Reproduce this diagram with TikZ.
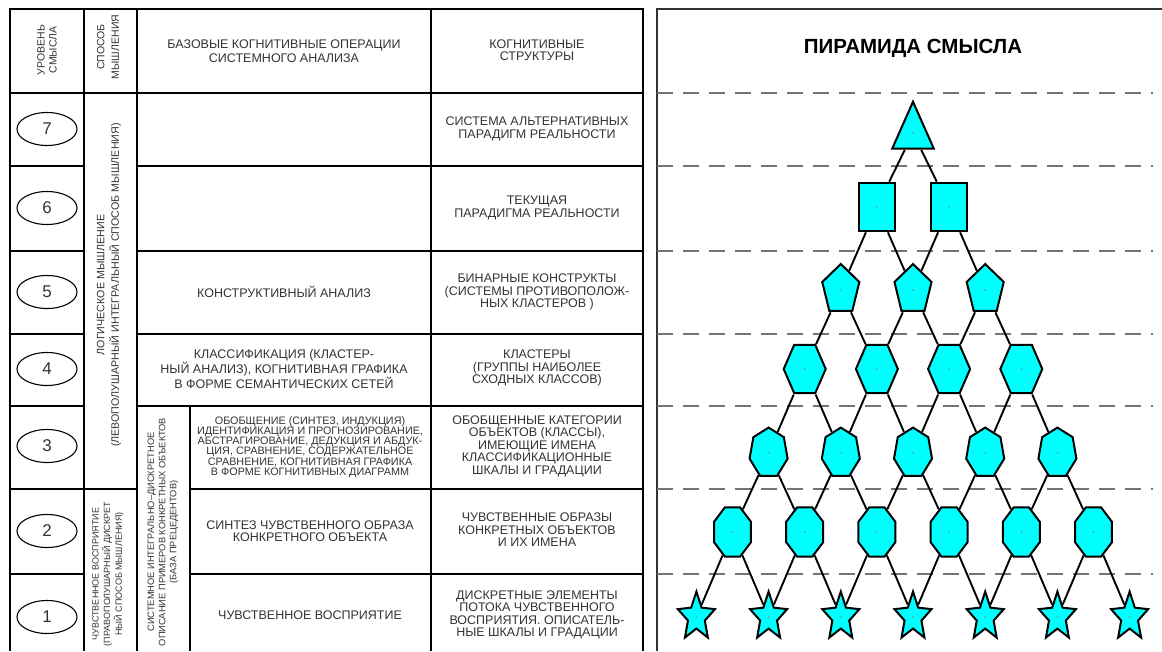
\documentclass[tikz,border=0pt]{standalone}
\usepackage{fontspec}
\setmainfont{Liberation Sans}
\usetikzlibrary{shapes.geometric}
\definecolor{aqua}{RGB}{0,255,255}

\begin{document}
\begin{tikzpicture}[x=1pt,y=-1pt]
        \tikzstyle{txt} = [align=center,text=black!80,inner sep=0pt,font=\fontsize{12.5}{12.5}\selectfont]
        \tikzstyle{dense} = [txt,font=\fontsize{10.8}{10.3}\selectfont]
        \tikzstyle{sidetxt} = [txt,rotate=90,font=\fontsize{9.3}{11.2}\selectfont]
        \tikzstyle{lvl} = [draw,ellipse,line width=1.1pt,minimum width=60,minimum height=33,inner sep=0pt,text=black!80,font=\fontsize{17}{17}\selectfont]
        \tikzstyle{fig} = [draw,fill=aqua,line width=2pt,inner sep=0pt,yscale=1.33]
        \tikzstyle{f3} = [fig,regular polygon,regular polygon sides=3,minimum size=48,yscale=0.98]
        \tikzstyle{f4} = [fig,regular polygon,regular polygon sides=4,minimum size=51]
        \tikzstyle{f5} = [fig,regular polygon,regular polygon sides=5,minimum size=39]
        \tikzstyle{f6} = [fig,regular polygon,regular polygon sides=6,minimum size=42]
        \tikzstyle{f7} = [fig,regular polygon,regular polygon sides=7,minimum size=39,yscale=0.98]
        \tikzstyle{f8} = [fig,regular polygon,regular polygon sides=8,minimum size=40]
        \tikzstyle{fs} = [fig,star,star points=5,star point ratio=2.2,minimum size=39,yscale=0.98]
        \useasboundingbox (0,0) rectangle (1162,651);

        % table
        \draw[line width=1.3pt] (10,651) -- (10,9) -- (643,9) -- (643,651);
        \draw[line width=1.3pt] (84,9) -- (84,651) (137,9) -- (137,651) (431,9) -- (431,651) (190,406) -- (190,651);
        \draw[line width=1.3pt] (10,93) -- (643,93);
        \foreach \y in {166,251,334,406} {
          \draw[line width=1.3pt] (10,\y) -- (84,\y) (137,\y) -- (643,\y);
        }
        \draw[line width=1.3pt] (10,489) -- (137,489) (190,489) -- (643,489);
        \draw[line width=1.3pt] (10,574) -- (84,574) (190,574) -- (643,574);

        \node[sidetxt,font=\fontsize{10.5}{12}\selectfont] (hd1) at (47,50) {УРОВЕНЬ\\СМЫСЛА};
        \node[sidetxt,font=\fontsize{10.5}{14.5}\selectfont] (hd2) at (108,47) {СПОСОБ\\МЫШЛЕНИЯ};
        \node[txt,font=\fontsize{12.5}{14}\selectfont] (hd3) at (284,51) {БАЗОВЫЕ КОГНИТИВНЫЕ ОПЕРАЦИИ\\СИСТЕМНОГО АНАЛИЗА};
        \node[txt] (hd4) at (537,50) {КОГНИТИВНЫЕ\\СТРУКТУРЫ};

        \foreach \n/\y in {7/129, 6/208, 5/292, 4/369, 3/446, 2/531, 1/617} {
          \node[lvl] (lv\n) at (47,\y) {\n};
        }

        \node[sidetxt,font=\fontsize{10.7}{14.5}\selectfont] (md1) at (109,285) {ЛОГИЧЕСКОЕ МЫШЛЕНИЕ\\(ЛЕВОПОЛУШАРНЫЙ ИНТЕГРАЛЬНЫЙ СПОСОБ МЫШЛЕНИЯ)};
        \node[sidetxt,font=\fontsize{9}{11.7}\selectfont] (md2) at (108,574) {ЧУВСТВЕННОЕ ВОСПРИЯТИЕ\\(ПРАВОПОЛУШАРНЫЙ ДИСКРЕТ\\НЫЙ СПОСОБ МЫШЛЕНИЯ)};
        \node[sidetxt] (sb) at (163,532) {СИСТЕМНОЕ ИНТЕГРАЛЬНО–ДИСКРЕТНОЕ\\ОПИСАНИЕ ПРИМЕРОВ КОНКРЕТНЫХ ОБЪЕКТОВ\\(БАЗА ПРЕЦЕДЕНТОВ)};

        \node[txt] (op5) at (284,292) {КОНСТРУКТИВНЫЙ АНАЛИЗ};
        \node[txt] (op4) at (284,369) {КЛАССИФИКАЦИЯ (КЛАСТЕР-\\НЫЙ АНАЛИЗ), КОГНИТИВНАЯ ГРАФИКА\\В ФОРМЕ СЕМАНТИЧЕСКИХ СЕТЕЙ};
        \node[dense] (op3) at (310,447) {ОБОБЩЕНИЕ (СИНТЕЗ, ИНДУКЦИЯ)\\ИДЕНТИФИКАЦИЯ И ПРОГНОЗИРОВАНИЕ,\\АБСТРАГИРОВАНИЕ, ДЕДУКЦИЯ И АБДУК-\\ЦИЯ, СРАВНЕНИЕ, СОДЕРЖАТЕЛЬНОЕ\\СРАВНЕНИЕ, КОГНИТИВНАЯ ГРАФИКА\\В ФОРМЕ КОГНИТИВНЫХ ДИАГРАММ};
        \node[txt] (op2) at (310,531) {СИНТЕЗ ЧУВСТВЕННОГО ОБРАЗА\\КОНКРЕТНОГО ОБЪЕКТА};
        \node[txt] (op1) at (310,615) {ЧУВСТВЕННОЕ ВОСПРИЯТИЕ};

        \foreach \n/\y/\t in {7/129/{СИСТЕМА АЛЬТЕРНАТИВНЫХ\\ПАРАДИГМ РЕАЛЬНОСТИ},
          6/208/{ТЕКУЩАЯ\\ПАРАДИГМА РЕАЛЬНОСТИ},
          5/292/{БИНАРНЫЕ КОНСТРУКТЫ\\(СИСТЕМЫ ПРОТИВОПОЛОЖ-\\НЫХ КЛАСТЕРОВ )},
          4/368/{КЛАСТЕРЫ\\(ГРУППЫ НАИБОЛЕЕ\\СХОДНЫХ КЛАССОВ)},
          3/446/{ОБОБЩЕННЫЕ КАТЕГОРИИ\\ОБЪЕКТОВ (КЛАССЫ),\\ИМЕЮЩИЕ ИМЕНА\\КЛАССИФИКАЦИОННЫЕ\\ШКАЛЫ И ГРАДАЦИИ},
          2/530/{ЧУВСТВЕННЫЕ ОБРАЗЫ\\КОНКРЕТНЫХ ОБЪЕКТОВ\\И ИХ ИМЕНА},
          1/615/{ДИСКРЕТНЫЕ ЭЛЕМЕНТЫ\\ПОТОКА ЧУВСТВЕННОГО\\ВОСПРИЯТИЯ. ОПИСАТЕЛЬ-\\НЫЕ ШКАЛЫ И ГРАДАЦИИ}} {
          \node[txt] (cs\n) at (537,\y) {\t};
        }

        % pyramid
        \draw[line width=1.1pt,black!80] (657,651) -- (657,9) -- (1162,9);
        \node[font=\fontsize{20.5}{20.5}\selectfont\bfseries] (ttl) at (913,48) {ПИРАМИДА СМЫСЛА};
        \foreach \y in {93,166,251,334,406,489,574} {
          \draw[black!55,line width=1.1pt,dash pattern=on 16pt off 10pt] (657,\y) -- (1153,\y);
        }

        \foreach \lev/\y/\shp in {7/133/f3, 6/207/f4, 5/290/f5, 4/369/f6, 3/453/f7, 2/532/f8, 1/617/fs} {
          \pgfmathtruncatemacro{\cnt}{8-\lev}
          \foreach \i in {1,...,\cnt} {
            \node[\shp] (n\lev\i) at ({913+(\i-(\cnt+1)/2)*72.2},\y) {};
            \fill[black!50] (n\lev\i) circle (0.8);
          }
        }
        \foreach \lev in {2,...,7} {
          \pgfmathtruncatemacro{\cnt}{8-\lev}
          \pgfmathtruncatemacro{\dn}{\lev-1}
          \foreach \i in {1,...,\cnt} {
            \pgfmathtruncatemacro{\j}{\i+1}
            \draw[line width=1.9pt] (n\lev\i) -- (n\dn\i);
            \draw[line width=1.9pt] (n\lev\i) -- (n\dn\j);
          }
        }
\end{tikzpicture}
\end{document}
